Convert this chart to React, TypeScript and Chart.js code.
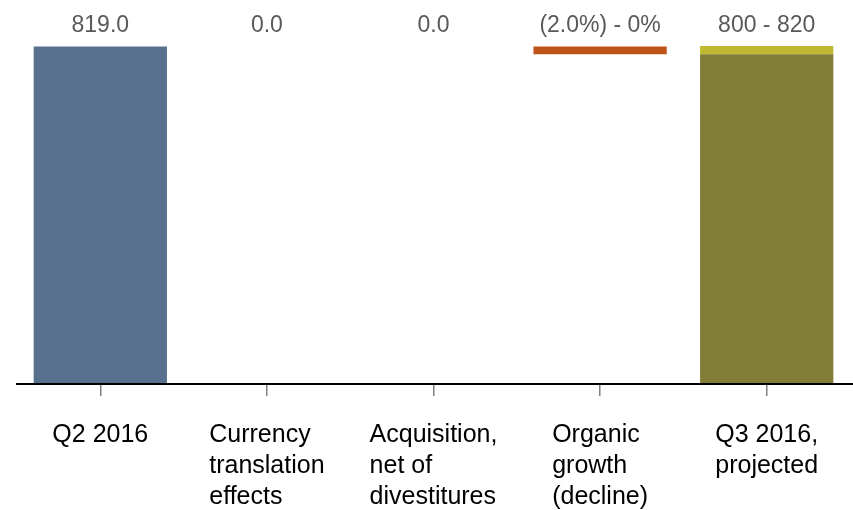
import React, { useEffect, useRef } from "react";
import { Chart, registerables } from "chart.js";

Chart.register(...registerables);

const categories: string[][] = [
  ["Q2 2016"],
  ["Currency", "translation", "effects"],
  ["Acquisition,", "net of", "divestitures"],
  ["Organic", "growth", "(decline)"],
  ["Q3 2016,", "projected"],
];
const valueLabels = ["819.0", "0.0", "0.0", "(2.0%) - 0%", "800 - 820"];
const barStart: (number | null)[] = [0, null, null, 800, 0];
const barEnd: (number | null)[] = [819, null, null, 819, 800];
const rangeStart: (number | null)[] = [null, null, null, null, 800];
const rangeEnd: (number | null)[] = [null, null, null, null, 820];
const barColors = ["#58718E", "#58718E", "#58718E", "#BF541B", "#827D37"];
const rangeColor = "#C0B92F";

const FONT = "'Liberation Sans', Arial, sans-serif";

const labelPlugin = {
  id: "customLabels",
  afterDraw(chart: any) {
    const ctx = chart.ctx;
    const xs = chart.scales.x;
    const area = chart.chartArea;
    ctx.save();
    // axis line
    ctx.strokeStyle = "#000000";
    ctx.lineWidth = 2;
    ctx.beginPath();
    ctx.moveTo(area.left - 1, area.bottom + 1);
    ctx.lineTo(853, area.bottom + 1);
    ctx.stroke();
    // value labels
    ctx.font = `23px ${FONT}`;
    ctx.fillStyle = "#595959";
    ctx.textAlign = "center";
    ctx.textBaseline = "alphabetic";
    valueLabels.forEach((t, i) => {
      ctx.fillText(t, xs.getPixelForValue(i), 32);
    });
    // category labels, left-aligned block centered under tick
    ctx.font = `25px ${FONT}`;
    ctx.fillStyle = "#000000";
    ctx.textAlign = "left";
    categories.forEach((lines, i) => {
      const w = Math.max(...lines.map((l) => ctx.measureText(l).width));
      const x0 = xs.getPixelForValue(i) - w / 2;
      lines.forEach((l, j) => {
        ctx.fillText(l, x0, 442 + j * 31);
      });
    });
    ctx.restore();
  },
};

export default function App() {
  const ref = useRef<HTMLCanvasElement>(null);
  useEffect(() => {
    if (!ref.current) return;
    const chart = new Chart(ref.current, {
      type: "bar",
      data: {
        labels: categories.map((c) => c.join(" ")),
        datasets: [
          {
            data: barStart.map((s, i) => (s === null ? null : [s, barEnd[i] as number])) as any,
            backgroundColor: barColors,
            grouped: false,
            barPercentage: 0.8,
            categoryPercentage: 1,
            borderWidth: 0,
          } as any,
          {
            data: rangeStart.map((s, i) => (s === null ? null : [s, rangeEnd[i] as number])) as any,
            backgroundColor: rangeColor,
            grouped: false,
            barPercentage: 0.8,
            categoryPercentage: 1,
            borderWidth: 0,
          } as any,
        ],
      },
      options: {
        animation: false,
        responsive: false,
        maintainAspectRatio: false,
        layout: { padding: { top: 46, left: 17, right: 3, bottom: 0 } },
        plugins: { legend: { display: false }, tooltip: { enabled: false } },
        scales: {
          y: { display: false, min: 0, max: 820 },
          x: {
            afterFit: (scale: any) => {
              scale.height = 127;
            },
            border: { display: false },
            grid: {
              display: true,
              offset: false,
              drawOnChartArea: false,
              drawTicks: true,
              tickLength: 13,
              color: "#808080",
              lineWidth: 1.5,
            },
            ticks: { display: false },
          },
        },
      },
      plugins: [labelPlugin],
    });
    return () => chart.destroy();
  }, []);
  return (
    <div style={{ position: "absolute", left: 0, top: 0, width: 853, height: 510, background: "#fff" }}>
      <canvas ref={ref} width={853} height={510} style={{ width: 853, height: 510 }} />
    </div>
  );
}
